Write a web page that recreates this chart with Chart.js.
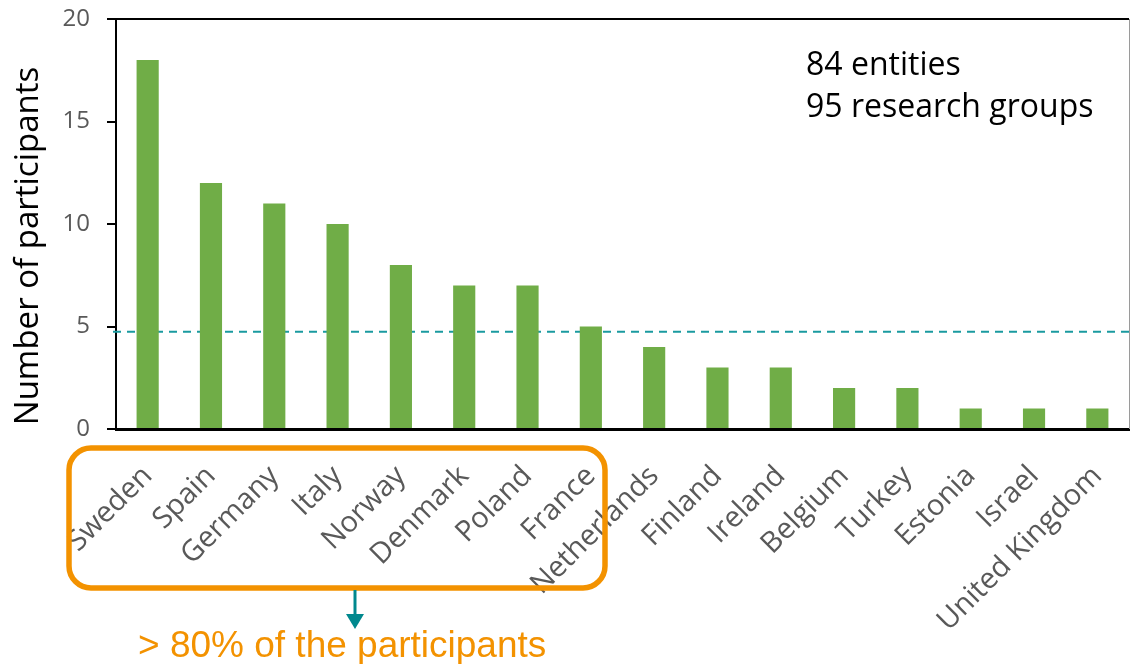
<!DOCTYPE html>
<html><head><meta charset="utf-8">
<script src="https://cdn.jsdelivr.net/npm/chart.js@4.4.1/dist/chart.umd.min.js"></script>
<style>html,body{margin:0;padding:0;background:#fff;overflow:hidden}#wrap{width:1130px;height:664px;position:relative}</style>
</head><body><div id="wrap"><canvas id="c" width="1130" height="664"></canvas></div>
<script>
const countries = ['Sweden','Spain','Germany','Italy','Norway','Denmark','Poland','France','Netherlands','Finland','Ireland','Belgium','Turkey','Estonia','Israel','United Kingdom'];
const participants = [18,12,11,10,8,7,7,5,4,3,3,2,2,1,1,1];
const yTicks = [0,5,10,15,20];
const threshold = 4.75;
const yTitle = 'Number of participants';
const noteLines = ['84 entities','95 research groups'];
const highlightText = '> 80% of the participants';

const decor = {
  id:'decor',
  beforeDatasetsDraw(chart){
    const {ctx, chartArea:a, scales:{y}} = chart;
    const yy = y.getPixelForValue(threshold);
    ctx.save();
    ctx.strokeStyle = '#1A9AA0';
    ctx.lineWidth = 2;
    ctx.setLineDash([8,6]);
    ctx.beginPath(); ctx.moveTo(a.left-3, yy); ctx.lineTo(a.right, yy); ctx.stroke();
    ctx.restore();
  },
  afterDraw(chart){
    const {ctx, chartArea:a} = chart;
    ctx.save();
    ctx.strokeStyle = '#000'; ctx.lineWidth = 2;
    ctx.beginPath(); ctx.moveTo(a.left-9, a.top); ctx.lineTo(a.right, a.top); ctx.stroke();
    ctx.strokeStyle = '#9a9a9a'; ctx.lineWidth = 1;
    ctx.beginPath(); ctx.moveTo(a.right+0.5, a.top); ctx.lineTo(a.right+0.5, a.bottom); ctx.stroke();
    ctx.save();
    ctx.translate(29, 246); ctx.rotate(-Math.PI/2);
    ctx.fillStyle = '#000'; ctx.font = '33px "Open Sans"';
    ctx.textAlign = 'center'; ctx.textBaseline = 'middle';
    ctx.fillText(yTitle, 0, 0);
    ctx.restore();
    ctx.fillStyle = '#000'; ctx.font = '32px "Open Sans"';
    ctx.textAlign = 'left'; ctx.textBaseline = 'alphabetic';
    ctx.fillText(noteLines[0], 806, 75);
    ctx.fillText(noteLines[1], 806, 117);
    ctx.strokeStyle = '#F39200'; ctx.lineWidth = 5.5;
    ctx.beginPath(); ctx.roundRect(69, 448, 536, 140, 22); ctx.stroke();
    ctx.strokeStyle = '#00888E'; ctx.fillStyle = '#00888E'; ctx.lineWidth = 3;
    ctx.beginPath(); ctx.moveTo(355, 590); ctx.lineTo(355, 616); ctx.stroke();
    ctx.beginPath(); ctx.moveTo(346, 614); ctx.lineTo(364, 614); ctx.lineTo(355, 629); ctx.closePath(); ctx.fill();
    ctx.fillStyle = '#F39200'; ctx.font = '37px "Liberation Sans", Arial';
    ctx.fillText(highlightText, 138, 657);
    ctx.restore();
  }
};

new Chart(document.getElementById('c'), {
  type:'bar',
  data:{labels:countries, datasets:[{data:participants, backgroundColor:'#70AD47', barPercentage:0.35, categoryPercentage:1, borderWidth:0}]},
  options:{
    responsive:false, animation:false,
    layout:{padding:{top:19, right:1, left:0, bottom:0}},
    plugins:{legend:{display:false}, tooltip:{enabled:false}},
    scales:{
      x:{
        grid:{display:false, drawTicks:false},
        border:{display:true, color:'#000', width:3},
        ticks:{autoSkip:false, minRotation:45, maxRotation:45, padding:30, color:'#595959', font:{family:'Open Sans', size:29}},
        afterFit(s){ s.height = 235; s.paddingLeft = 0; s.paddingRight = 0; }
      },
      y:{
        min:0, max:20,
        afterBuildTicks(s){ s.ticks = yTicks.map(v=>({value:v})); },
        grid:{drawOnChartArea:false, drawTicks:true, tickLength:9, color:'#000', lineWidth:2},
        border:{display:true, color:'#000', width:2},
        ticks:{padding:17, color:'#595959', font:{family:'Open Sans', size:24}},
        afterFit(s){ s.width = 116; s.paddingTop = 0; s.paddingBottom = 0; }
      }
    }
  },
  plugins:[decor]
});
</script></body></html>
